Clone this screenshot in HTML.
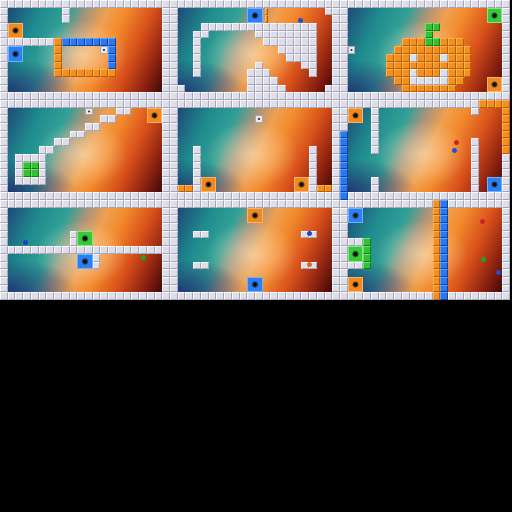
<!DOCTYPE html>
<html><head><meta charset="utf-8"><style>
body{margin:0;background:#000;width:512px;height:512px;overflow:hidden;position:relative;font-family:"Liberation Sans",sans-serif}
.p{position:absolute;width:170px;height:100px;overflow:hidden;background:#ccccd6}
.bg{position:absolute;left:7.7px;top:7.7px;width:154.6px;height:84.6px;background:radial-gradient(ellipse 45% 40% at 0% 100%,rgba(30,40,110,0.85),rgba(30,40,110,0) 100%),radial-gradient(ellipse 30% 40% at 48% 55%,rgba(255,235,200,0.55),rgba(255,235,200,0) 100%),linear-gradient(115deg,#1e4a78 0%,#1f8c8e 18%,#32a096 32%,#a8947a 42%,#f0a050 52%,#f28a2c 62%,#d8501a 76%,#8a2010 90%,#3e0a06 100%)}
.c{position:absolute;box-sizing:border-box}
.w{background:#dedee8;border:1px solid #f6f6fc;border-right-color:#a4a4b6;border-bottom-color:#a4a4b6}
.o{background:#f2901e;border:1px solid #ffb050;border-right-color:#b85a08;border-bottom-color:#b85a08}
.b{background:#2a78f0;border:1px solid #60a0ff;border-right-color:#1040a0;border-bottom-color:#1040a0}
.g{background:#34c034;border:1px solid #70e070;border-right-color:#108010;border-bottom-color:#108010}
.po{background:radial-gradient(circle,#000 0,#222 22%,#f08a20 38%);border:1px solid #ffb060}
.pb{background:radial-gradient(circle,#000 0,#222 22%,#2a80f8 38%);border:1px solid #70b0ff}
.pg{background:radial-gradient(circle,#000 0,#222 22%,#38c838 38%);border:1px solid #80e880}
.btn{background:radial-gradient(circle,#333 0,#333 20%,#e8e8f0 30%);border:1px solid #aaa}
.dot{position:absolute;width:5px;height:5px;border-radius:50%}
</style></head><body>
<div id="root"></div>
<script>
const CW=170/22, CH=100/13;
const panels=[
 {x:0,y:0,items:[['w',8,1,1,2],['po',1,3,2,2],['w',1,5,6,1],['pb',1,6,2,2],['o',7,5,1,5],['b',8,5,7,1],['b',14,6,1,3],['o',8,9,7,1],['btn',13,6,1,1]],dots:[]},
 {x:170,y:0,items:[['pb',10,1,2,2],['o',12.3,1,0.4,2],['w',20,1,1,1],['w',1,11,1,1],['w',20,11,1,1],['w',4,3,15,1],['w',3,4,1,6],['w',4,4,1,1],['w',11,4,8,1],['w',12,5,7,1],['w',14,6,5,1],['w',15,7,4,1],['w',17,8,2,1],['w',18,9,1,1],['w',11,8,1,1],['w',10,9,3,1],['w',10,10,4,1],['w',10,11,5,1]],dots:[[128,18,'#2050c0']]},
 {x:340,y:0,items:[['pg',19,1,2,2],['po',19,10,2,2],['btn',1,6,1,1],['g',11,3,2,1],['g',11,4,1,1],['o',8,5,3,1],['g',11,5,2,1],['o',13,5,3,1],['o',7,6,10,1],['o',6,7,11,1],['w',9,7,1,1],['w',13,7,1,1],['o',6,8,11,1],['o',6,9,11,1],['w',9,9,1,1],['w',13,9,1,1],['o',7,10,9,1],['w',9,10,5,1],['o',8,11,7,1]],dots:[]},
 {x:0,y:100,items:[['btn',11,1,1,1],['po',19,1,2,2],['w',15,1,2,1],['w',13,2,2,1],['w',11,3,2,1],['w',9,4,2,1],['w',7,5,2,1],['w',5,6,2,1],['w',2,7,4,1],['w',2,8,1,2],['g',3,8,2,2],['w',5,8,1,2],['w',2,10,4,1]],dots:[]},
 {x:170,y:100,items:[['btn',11,2,1,1],['w',3,6,1,6],['w',18,6,1,6],['po',4,10,2,2],['po',16,10,2,2],['o',1,11,2,1],['o',19,11,2,1]],dots:[]},
 {x:340,y:100,items:[['po',1,1,2,2],['b',0,4,1,9],['w',4,1,1,6],['w',4,10,1,2],['w',17,1,1,1],['o',18,0,4,1],['o',21,0,1,7],['w',17,5,1,7],['pb',19,10,2,2]],dots:[[114,40,'#d02020'],[112,48,'#2050d0']]},
 {x:0,y:200,items:[['w',1,6,20,1],['w',9,4,1,2],['pg',10,4,2,2],['pb',10,7,2,2],['w',12,7,1,2]],dots:[[23,40,'#2040c0'],[141,55,'#20a030']]},
 {x:170,y:200,items:[['po',10,1,2,2],['pb',10,10,2,2],['w',3,4,2,1],['w',3,8,2,1],['w',17,4,2,1],['w',17,8,2,1]],dots:[[137,31,'#2040d0'],[137,62,'#d07020']]},
 {x:340,y:200,items:[['pb',1,1,2,2],['w',1,5,2,1],['g',3,5,1,4],['pg',1,6,2,2],['w',1,8,2,1],['po',1,10,2,2],['o',12,0,1,13],['b',13,0,1,13]],dots:[[140,19,'#d02020'],[141,57,'#20a030'],[156,70,'#2050d0']]}
];
const root=document.getElementById('root');
panels.forEach((P,i)=>{
 const p=document.createElement('div');p.className='p';
 
 
 p.style.left=P.x+'px';p.style.top=P.y+'px';
 for(let c=0;c<22;c++)for(let r=0;r<13;r++){
  if(c==0||c==21||r==0||r==12){const d=document.createElement('div');d.className='c w';
  d.style.left=c*CW+'px';d.style.top=r*CH+'px';d.style.width=CW+'px';d.style.height=CH+'px';
  
  p.appendChild(d);}
 }
 const bg=document.createElement('div');bg.className='bg';
 
 
 p.appendChild(bg);
 P.items.forEach(([t,c,r,w,h])=>{
  const multi=(t=='w'||t=='o'||t=='b'||t=='g');
  if(multi){for(let a=0;a<w;a++)for(let b=0;b<h;b++){
    const d=document.createElement('div');d.className='c '+t;
    d.style.left=(c+a)*CW+'px';d.style.top=(r+b)*CH+'px';d.style.width=(w<1?w*CW:CW)+'px';d.style.height=CH+'px';
    
    p.appendChild(d);}}
  else{const d=document.createElement('div');d.className='c '+t;
    d.style.left=c*CW+'px';d.style.top=r*CH+'px';d.style.width=w*CW+'px';d.style.height=h*CH+'px';
    
    p.appendChild(d);}
 });
 P.dots.forEach(([x,y,col])=>{const d=document.createElement('div');d.className='dot';
  d.style.left=x+'px';d.style.top=y+'px';d.style.background=col;
  
  p.appendChild(d);});
 root.appendChild(p);
});
</script>
</body></html>
